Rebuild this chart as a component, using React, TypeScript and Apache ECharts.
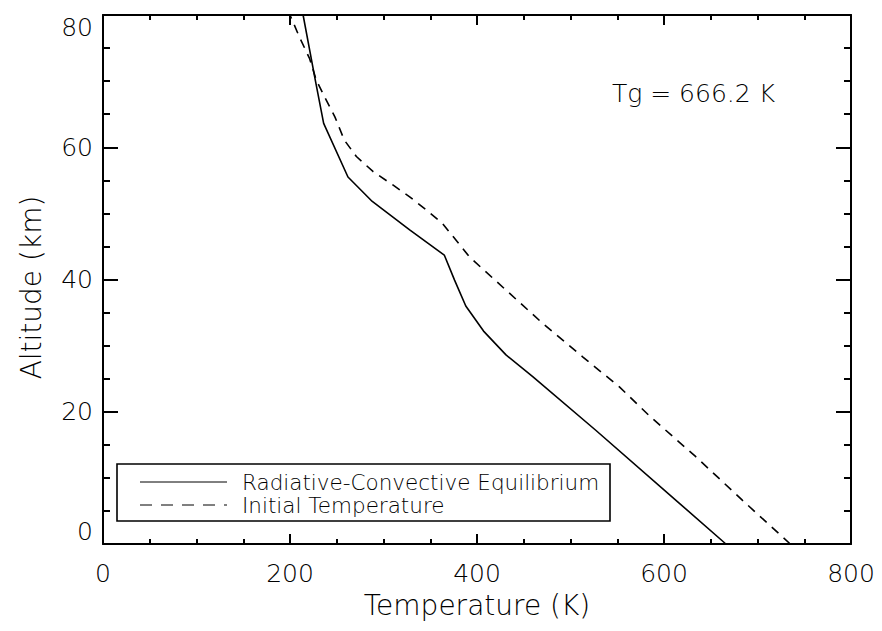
import React, { useEffect, useRef } from "react";
import * as echarts from "echarts";

const xTicks = [0, 200, 400, 600, 800];
const yTicks = [0, 20, 40, 60, 80];

// Radiative-Convective Equilibrium: [Temperature K, Altitude km]
const rceTemp = [666.2, 616.5, 527, 459.6, 431, 407, 388, 376, 365, 328, 288, 262, 236, 227, 214];
const rceAlt = [0, 6.15, 17.2, 25.3, 28.6, 32.2, 36.0, 39.9, 43.7, 47.5, 51.8, 55.5, 63.6, 70.2, 80];

// Initial Temperature
const initTemp = [735, 684, 634, 585, 552, 513, 470, 431, 392, 363, 346, 328, 310, 289, 271, 258, 248, 237, 228, 221, 210, 200];
const initAlt = [0, 6.6, 13.2, 19.3, 23.8, 28.3, 33.4, 38.4, 43.4, 48.5, 50.5, 52.5, 54.3, 56.3, 58.6, 61.1, 64.6, 67.6, 70.2, 73.4, 76.7, 80];

const legendNames = ["Radiative-Convective Equilibrium", "Initial Temperature"];
const annotation = "Tg = 666.2 K";

const FONT = "DejaVu Sans";
const WEIGHT = 200;

export default function App() {
  const ref = useRef<HTMLDivElement>(null);
  useEffect(() => {
    const chart = echarts.init(ref.current!, null, { renderer: "svg" });
    const line = { color: "#000", width: 2 };
    const baseX = {
      type: "value",
      min: xTicks[0],
      max: xTicks[xTicks.length - 1],
      interval: xTicks[1] - xTicks[0],
      splitLine: { show: false },
      axisLine: { show: true, onZero: false, lineStyle: line },
      axisTick: { show: true, inside: true, length: 10, lineStyle: line },
      minorTick: { show: true, splitNumber: 4, length: 5, lineStyle: line },
    };
    const baseY = {
      type: "value",
      min: yTicks[0],
      max: yTicks[yTicks.length - 1],
      interval: yTicks[1] - yTicks[0],
      splitLine: { show: false },
      axisLine: { show: true, onZero: false, lineStyle: line },
      axisTick: { show: true, inside: true, length: 15, lineStyle: line },
      minorTick: { show: true, splitNumber: 4, length: 7, lineStyle: line },
    };
    const txt = { fontFamily: FONT, fontWeight: WEIGHT, color: "#000" };
    chart.setOption({
      animation: false,
      backgroundColor: "#fff",
      grid: { left: 103, right: 31, top: 15, bottom: 87, containLabel: false },
      xAxis: [
        {
          ...baseX,
          position: "bottom",
          name: "Temperature (K)",
          nameLocation: "middle",
          nameGap: 47,
          nameTextStyle: { ...txt, fontSize: 28 },
          axisLabel: { ...txt, fontSize: 25, margin: 17 },
        },
        { ...baseX, position: "top", axisLabel: { show: false } },
      ],
      yAxis: [
        {
          ...baseY,
          position: "left",
          name: "Altitude (km)",
          nameLocation: "middle",
          nameGap: 58,
          nameTextStyle: { ...txt, fontSize: 28, padding: [0, 16, 0, 0] },
          axisLabel: {
            ...txt,
            fontSize: 25,
            margin: 10,
            verticalAlignMaxLabel: "top",
            verticalAlignMinLabel: "bottom",
          },
        },
        { ...baseY, position: "right", axisLabel: { show: false } },
      ],
      series: [
        {
          type: "line",
          name: legendNames[0],
          data: rceTemp.map((t, i) => [t, rceAlt[i]]),
          symbol: "none",
          lineStyle: { color: "#000", width: 1.6, type: "solid" },
          z: 3,
        },
        {
          type: "line",
          name: legendNames[1],
          data: initTemp.map((t, i) => [t, initAlt[i]]),
          symbol: "none",
          lineStyle: { color: "#000", width: 1.6, type: [9, 7] },
          z: 3,
        },
      ],
      graphic: [
        {
          type: "text",
          x: 612,
          y: 93,
          style: { text: annotation, fontFamily: FONT, fontWeight: WEIGHT, fontSize: 25, fill: "#000", verticalAlign: "middle" },
        },
        {
          type: "rect",
          shape: { x: 117, y: 464, width: 493, height: 57 },
          style: { fill: "#fff", stroke: "#000", lineWidth: 1.6 },
          z: 10,
        },
        {
          type: "line",
          shape: { x1: 140, y1: 482, x2: 227, y2: 482 },
          style: { stroke: "#000", lineWidth: 1 },
          z: 11,
        },
        {
          type: "line",
          shape: { x1: 140, y1: 505, x2: 227, y2: 505 },
          style: { stroke: "#000", lineWidth: 1, lineDash: [12, 9] },
          z: 11,
        },
        {
          type: "text",
          x: 242,
          y: 482,
          style: { text: legendNames[0], fontFamily: FONT, fontWeight: WEIGHT, fontSize: 21.5, fill: "#000", verticalAlign: "middle" },
          z: 11,
        },
        {
          type: "text",
          x: 242,
          y: 505,
          style: { text: legendNames[1], fontFamily: FONT, fontWeight: WEIGHT, fontSize: 21.5, fill: "#000", verticalAlign: "middle" },
          z: 11,
        },
      ],
    });
    return () => chart.dispose();
  }, []);
  return (
    <div
      ref={ref}
      style={{ position: "fixed", left: 0, top: 0, width: 882, height: 631, background: "#fff" }}
    />
  );
}
